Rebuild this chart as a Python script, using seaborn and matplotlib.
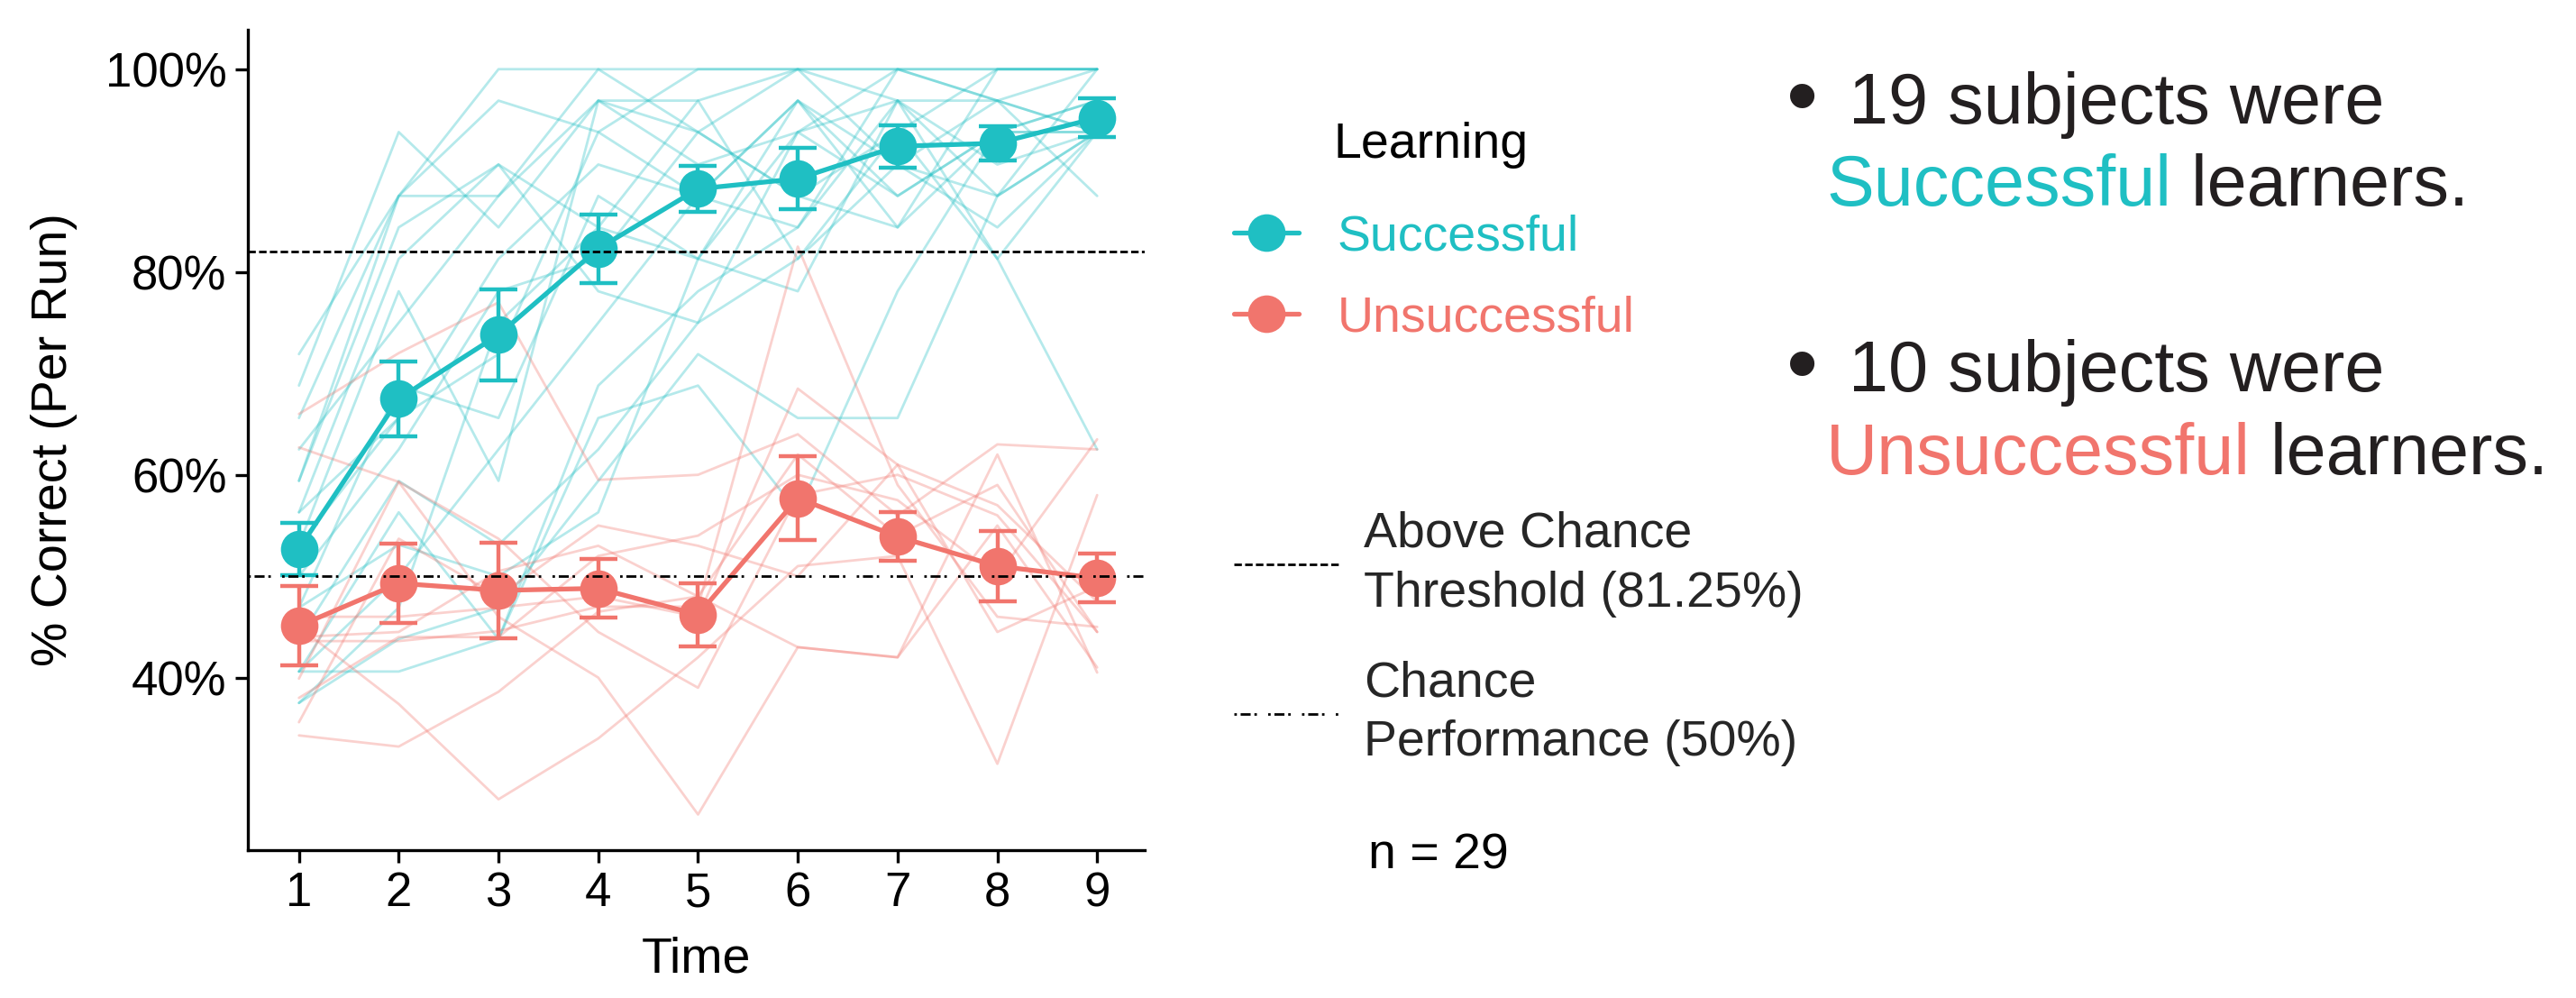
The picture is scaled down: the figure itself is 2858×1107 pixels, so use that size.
import matplotlib
matplotlib.use('Agg')
import matplotlib.pyplot as plt
from matplotlib.lines import Line2D
import numpy as np
import pandas as pd
import seaborn as sns

# data (% correct per run)
time_points = [1, 2, 3, 4, 5, 6, 7, 8, 9]

successful_subjects = [
    [71.9, 87.5, 100, 100, 100, 100, 100, 100, 100],
    [68.8, 93.8, 84.4, 96.9, 96.9, 100, 100, 100, 100],
    [62.5, 75.0, 87.5, 96.9, 90.6, 93.8, 96.9, 96.9, 93.8],
    [59.4, 87.5, 87.5, 100, 93.8, 100, 90.6, 87.5, 100],
    [56.3, 81.3, 90.6, 84.4, 81.3, 93.8, 100, 96.9, 100],
    [53.1, 65.6, 71.9, 93.8, 87.5, 96.9, 84.4, 93.8, 93.8],
    [50.0, 62.5, 78.1, 81.3, 93.8, 87.5, 93.8, 81.3, 93.8],
    [46.9, 68.8, 65.6, 87.5, 81.3, 78.1, 96.9, 90.6, 93.8],
    [43.8, 59.4, 53.1, 62.5, 75.0, 81.3, 90.6, 84.4, 93.8],
    [40.6, 50.0, 62.5, 75.0, 87.5, 96.9, 87.5, 93.8, 96.9],
    [40.6, 56.3, 43.8, 68.8, 78.1, 84.4, 100, 96.9, 93.8],
    [37.5, 46.9, 75.0, 84.4, 96.9, 81.3, 93.8, 100, 100],
    [37.5, 43.8, 46.9, 59.4, 71.9, 65.6, 65.6, 87.5, 93.8],
    [46.9, 53.1, 50.0, 56.3, 81.3, 96.9, 90.6, 96.9, 87.5],
    [53.1, 78.1, 59.4, 96.9, 93.8, 87.5, 84.4, 100, 100],
    [65.6, 87.5, 96.9, 93.8, 100, 100, 96.9, 81.3, 62.5],
    [40.6, 40.6, 43.8, 65.6, 68.8, 56.3, 78.1, 93.8, 96.9],
    [59.4, 84.4, 90.6, 78.1, 75.0, 93.8, 87.5, 93.8, 93.8],
    [56.3, 65.6, 81.3, 90.6, 87.5, 84.4, 96.9, 87.5, 93.8],
]

unsuccessful_subjects = [
    [66.0, 72.0, 77.0, 59.5, 60.0, 64.0, 56.0, 63.0, 62.5],
    [62.7, 59.3, 46.0, 40.0, 26.5, 43.0, 42.0, 55.0, 41.0],
    [45.0, 37.4, 28.0, 34.0, 42.0, 51.0, 52.0, 31.5, 58.0],
    [43.6, 43.6, 44.6, 47.0, 47.0, 82.5, 59.0, 46.0, 45.0],
    [39.9, 59.3, 53.7, 44.5, 39.0, 58.0, 60.0, 56.0, 44.5],
    [35.6, 53.7, 48.0, 55.0, 53.0, 50.0, 61.0, 57.0, 47.5],
    [34.3, 33.2, 38.6, 46.5, 48.0, 43.0, 42.0, 62.0, 40.5],
    [46.0, 46.0, 46.9, 48.0, 46.0, 68.5, 61.0, 44.5, 49.0],
    [44.0, 44.5, 50.5, 53.0, 48.0, 62.0, 54.0, 59.0, 44.5],
    [38.0, 44.0, 44.0, 52.0, 54.0, 60.0, 57.5, 50.0, 63.5],
]

successful_mean = [52.7, 67.5, 73.8, 82.3, 88.2, 89.2, 92.4, 92.7, 95.2]
successful_se = [2.6, 3.7, 4.5, 3.4, 2.3, 3.0, 2.1, 1.7, 1.9]
unsuccessful_mean = [45.1, 49.3, 48.6, 48.8, 46.2, 57.7, 53.9, 51.0, 49.8]
unsuccessful_se = [3.9, 3.9, 4.7, 2.9, 3.1, 4.1, 2.4, 3.5, 2.4]

threshold_line = 82.0
chance_line = 50.0
n_subjects = 29

teal = '#1fbfc3'
salmon = '#f1756d'
dark = '#231f20'
palette = {'Successful': teal, 'Unsuccessful': salmon}

sns.set_theme(style='ticks')
plt.rcParams['font.family'] = ['Liberation Sans', 'DejaVu Sans']
side_size = 28.5

# long tables for seaborn
rows = []
for group, subjects in (('Successful', successful_subjects), ('Unsuccessful', unsuccessful_subjects)):
    for i, vals in enumerate(subjects):
        for t, v in zip(time_points, vals):
            rows.append({'Learning': group, 'Subject': f'{group}_{i}', 'Time': t, 'Correct': v})
subj_df = pd.DataFrame(rows)

mean_df = pd.concat([
    pd.DataFrame({'Learning': 'Successful', 'Time': time_points, 'Correct': successful_mean, 'SE': successful_se}),
    pd.DataFrame({'Learning': 'Unsuccessful', 'Time': time_points, 'Correct': unsuccessful_mean, 'SE': unsuccessful_se}),
])

fig = plt.figure(figsize=(14.29, 5.535), dpi=200)
fig.patch.set_facecolor('white')
ax = fig.add_axes([0.0963, 0.1483, 0.3482, 0.822])

sns.lineplot(data=subj_df, x='Time', y='Correct', hue='Learning', units='Subject',
             estimator=None, palette=palette, alpha=0.33, linewidth=1.0, legend=False, ax=ax)

for group, sub in mean_df.groupby('Learning'):
    ax.errorbar(sub['Time'], sub['Correct'], yerr=sub['SE'], fmt='none', ecolor=palette[group],
                elinewidth=1.6, capsize=7.5, capthick=1.6, zorder=4)

sns.lineplot(data=mean_df, x='Time', y='Correct', hue='Learning', palette=palette,
             marker='o', markersize=15, markeredgewidth=0, linewidth=1.9, legend=False,
             ax=ax, zorder=5)

ax.axhline(threshold_line, color='black', lw=1.0, ls=(0, (3, 1.3)), zorder=6)
ax.axhline(chance_line, color='black', lw=1.0, ls=(0, (1, 1.5, 4, 1.5, 1, 4.5)), zorder=6)

ax.set_xlim(0.49, 9.48)
ax.set_ylim(23, 103.9)
ax.set_xticks(time_points)
ax.set_yticks([40, 60, 80, 100])
ax.set_yticklabels([f'{v}%' for v in [40, 60, 80, 100]])
ax.set_xlabel('Time', fontsize=20, color='black', labelpad=8)
ax.set_ylabel('% Correct (Per Run)', fontsize=20, color='black', labelpad=11)
ax.tick_params(axis='both', labelsize=19, colors='black', length=5, width=1.2)
sns.despine(ax=ax)
for side in ('left', 'bottom'):
    ax.spines[side].set_color('black')
    ax.spines[side].set_linewidth(1.2)
ax.grid(False)

# group legend
fig.text(0.5555, 0.855, 'Learning', fontsize=20, ha='center', va='center', color='black')
group_handles = [Line2D([], [], color=palette[g], marker='o', markersize=15, lw=1.9, markeredgewidth=0)
                 for g in ('Successful', 'Unsuccessful')]
leg1 = fig.legend(handles=group_handles, labels=['Successful', 'Unsuccessful'],
                  loc='center left', bbox_to_anchor=(0.479, 0.7216), frameon=False, fontsize=20,
                  handlelength=1.3, handletextpad=0.77, labelspacing=0.68,
                  labelcolor='linecolor', borderaxespad=0, borderpad=0)

# reference lines legend
ref_handles = [Line2D([], [], color='black', lw=1.0, ls=(0, (3, 1.3))),
               Line2D([], [], color='black', lw=1.0, ls=(0, (1, 1.5, 4, 1.5, 1, 4.5)))]
leg2 = fig.legend(handles=ref_handles,
                  labels=['Above Chance\nThreshold (81.25%)', 'Chance\nPerformance (50%)'],
                  loc='upper left', bbox_to_anchor=(0.479, 0.488), frameon=False, fontsize=20,
                  handlelength=2.1, handletextpad=0.5, labelspacing=0.85, borderaxespad=0, borderpad=0)
for t in leg2.get_texts():
    t.set_linespacing(1.35)
fig.text(0.531, 0.142, f'n = {n_subjects}', fontsize=20, va='center', color='black')

# side notes
kw = dict(fontsize=side_size, va='baseline')
for y_top, y_bot, count, word, col in ((0.876, 0.794, len(successful_subjects), 'Successful', teal),
                                       (0.608, 0.525, len(unsuccessful_subjects), 'Unsuccessful', salmon)):
    fig.text(0.6995, y_top + 0.021, '\u2022', color=dark, fontsize=36, ha='center', va='center')
    fig.text(0.7175, y_top, f'{count} subjects were', color=dark, **kw)
    w = fig.text(0.709, y_bot, word, color=col, **kw)
    ax.annotate(' learners.', xy=(1, 0), xycoords=w, va='bottom', color=dark, fontsize=side_size)

fig.savefig('out.png', dpi=200, facecolor='white')
